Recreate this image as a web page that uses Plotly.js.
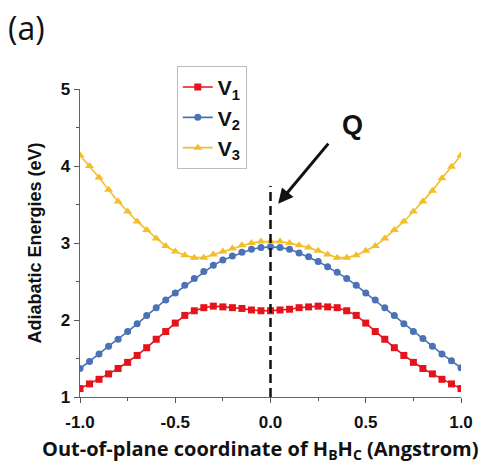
<!DOCTYPE html>
<html>
<head>
<meta charset="utf-8">
<script src="https://cdn.plot.ly/plotly-3.0.1.min.js"></script>
<style>html,body{margin:0;padding:0;background:#fff;}#chart{width:491px;height:467px;}</style>
</head>
<body>
<div id="chart"></div>
<script>
const xCoord = [-1.00,-0.95,-0.90,-0.85,-0.80,-0.75,-0.70,-0.65,-0.60,-0.55,-0.50,-0.45,-0.40,-0.35,-0.30,-0.25,-0.20,-0.15,-0.10,-0.05,0.00,
                0.05,0.10,0.15,0.20,0.25,0.30,0.35,0.40,0.45,0.50,0.55,0.60,0.65,0.70,0.75,0.80,0.85,0.90,0.95,1.00];
const V1 = [1.11,1.17,1.23,1.30,1.37,1.45,1.54,1.64,1.75,1.85,1.96,2.06,2.12,2.16,2.18,2.17,2.16,2.15,2.13,2.12,2.12,
            2.13,2.14,2.16,2.17,2.18,2.17,2.16,2.12,2.06,1.96,1.85,1.75,1.64,1.54,1.45,1.37,1.30,1.23,1.17,1.11];
const V2 = [1.37,1.46,1.56,1.66,1.75,1.85,1.95,2.06,2.16,2.26,2.35,2.45,2.54,2.63,2.71,2.78,2.83,2.88,2.92,2.94,2.95,
            2.94,2.92,2.87,2.82,2.76,2.69,2.62,2.54,2.45,2.35,2.26,2.16,2.06,1.95,1.85,1.76,1.66,1.56,1.47,1.38];
const V3 = [4.14,4.00,3.85,3.69,3.54,3.41,3.28,3.17,3.06,2.96,2.89,2.84,2.81,2.81,2.85,2.89,2.93,2.97,3.00,3.02,3.02,
            3.02,3.00,2.97,2.94,2.90,2.85,2.81,2.81,2.84,2.90,2.96,3.06,3.17,3.28,3.41,3.54,3.68,3.84,3.99,4.14];
const seriesNames = ['<b>V<sub>1</sub></b>','<b>V<sub>2</sub></b>','<b>V<sub>3</sub></b>'];
const xTickVals = [-1,-0.5,0,0.5,1];
const xTickText = ['-1.0','-0.5','0.0','0.5','1.0'];
const yTickVals = [1,2,3,4,5];
const qLineX = [0,0];
const qLineY = [1,3.74];

const colors = ['#e3141c','#4a72b5','#f2be2a'];
const symbols = ['square','circle','triangle-up'];
const ys = [V1,V2,V3];
const traces = ys.map((y,i)=>({
  x: xCoord, y: y, type:'scatter', mode:'lines+markers', name: seriesNames[i],
  line:{color:colors[i], width:1.6},
  marker:{color:colors[i], symbol:symbols[i], size: i===2?8:7}
}));
traces.push({x:qLineX, y:qLineY, type:'scatter', mode:'lines', showlegend:false,
  line:{color:'#111', width:2.5, dash:'9px,5px'}, hoverinfo:'skip'});

const tickFont = {family:'Liberation Sans, Arial, sans-serif', size:17, color:'#111', weight:'bold'};
const layout = {
  width:491, height:467,
  margin:{l:80, r:30, t:89, b:70},
  paper_bgcolor:'#fff', plot_bgcolor:'#fff',
  showlegend:true,
  legend:{x:0.254, y:1.075, xanchor:'left', yanchor:'top', bgcolor:'#fff',
    bordercolor:'#bbb', borderwidth:1,
    font:{family:'Liberation Sans, Arial, sans-serif', size:21, color:'#111'},
    tracegroupgap:0},
  xaxis:{range:[-1,1], tickvals:xTickVals, ticktext:xTickText, ticks:'outside', ticklen:5,
    tickwidth:1, tickcolor:'#555', showline:true, linecolor:'#666', linewidth:1.3,
    showgrid:false, zeroline:false, tickfont:tickFont, ticklabelstandoff:4,
    minor:{tickvals:[-0.75,-0.25,0.25,0.75], ticks:'outside', ticklen:3, tickcolor:'#555', showgrid:false}},
  yaxis:{range:[1,5], tickvals:yTickVals, ticks:'outside', ticklen:5,
    tickwidth:1, tickcolor:'#555', showline:true, linecolor:'#666', linewidth:1.3,
    showgrid:false, zeroline:false, tickfont:tickFont,
    minor:{dtick:0.5, ticks:'outside', ticklen:3, tickcolor:'#555', showgrid:false},
    title:{text:'<b>Adiabatic Energies (eV)</b>',
      font:{family:'Liberation Sans, Arial, sans-serif', size:18, color:'#111'}, standoff:14}},
  annotations:[
    {xref:'paper', yref:'paper', x:0.475, y:-0.172, xanchor:'center', yanchor:'middle', showarrow:false,
     text:'<b>Out-of-plane coordinate of H<sub>B</sub>H<sub>C</sub> (Angstrom)</b>',
     font:{family:'Open Sans, sans-serif', size:20, color:'#111'}},
    {xref:'paper', yref:'paper', x:-0.195, y:1.2, xanchor:'left', yanchor:'middle', showarrow:false,
     text:'(a)', font:{family:'Open Sans, sans-serif', size:32, color:'#111'}},
    {xref:'x', yref:'y', x:0.43, y:4.53, showarrow:false, text:'<b>Q</b>',
     font:{family:'Liberation Sans, Arial, sans-serif', size:27, color:'#111'}},
    {xref:'x', yref:'y', x:0.04, y:3.51, ax:0.31, ay:4.31, axref:'x', ayref:'y',
     showarrow:true, arrowhead:2, arrowsize:1, arrowwidth:3, arrowcolor:'#111', text:''}
  ]
};
Plotly.newPlot('chart', traces, layout, {displayModeBar:false, staticPlot:true});
</script>
</body>
</html>
